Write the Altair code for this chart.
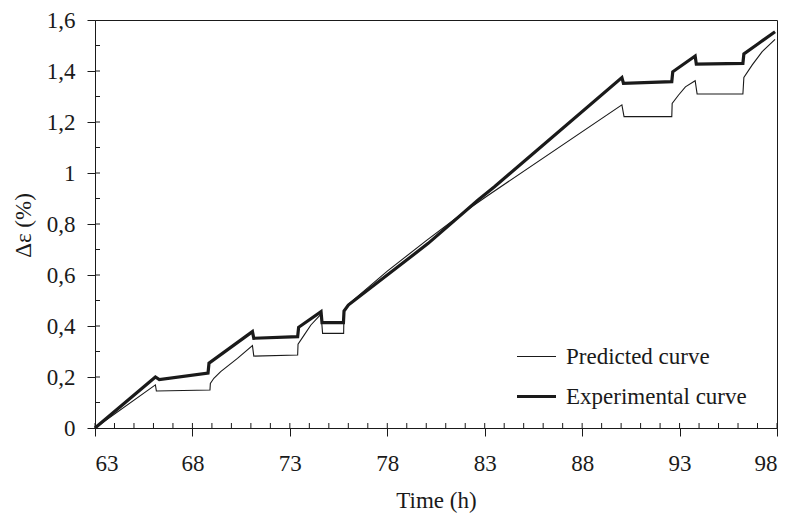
import altair as alt
import pandas as pd

# ---- data ----
exp_t = [63.0, 66.1, 66.3, 68.8, 68.85, 71.08, 71.15, 73.4, 73.45, 74.6, 74.65, 75.75,
         75.78, 76.0, 80.1, 82.66, 83.5, 90.04, 90.12, 92.6, 92.65, 93.8, 93.86, 96.25,
         96.3, 97.07, 97.9]
exp_v = [0.0, 0.2, 0.19, 0.215, 0.254, 0.378, 0.352, 0.358, 0.395, 0.456, 0.413, 0.413,
         0.459, 0.482, 0.724, 0.894, 0.946, 1.374, 1.352, 1.358, 1.397, 1.459, 1.427, 1.43,
         1.467, 1.509, 1.554]

pred_t = [63.0, 66.1, 66.15, 68.9, 68.92, 69.1, 69.45, 70.31, 71.08, 71.15, 73.4, 73.42,
          73.74, 74.08, 74.6, 74.68, 75.76, 75.78, 76.0, 78.0, 80.0, 82.0, 83.2, 90.04,
          90.15, 92.6, 92.62, 92.95, 93.3, 93.8, 93.9, 96.25, 96.3, 96.73, 97.24, 97.9]
pred_v = [0.0, 0.169, 0.145, 0.149, 0.175, 0.195, 0.221, 0.273, 0.323, 0.282, 0.286, 0.329,
          0.365, 0.404, 0.447, 0.371, 0.371, 0.46, 0.485, 0.615, 0.735, 0.85, 0.914, 1.267,
          1.221, 1.221, 1.273, 1.306, 1.338, 1.362, 1.31, 1.31, 1.375, 1.424, 1.476, 1.524]

series_names = ["Predicted curve", "Experimental curve"]
x_major = [63, 68, 73, 78, 83, 88, 93, 98]
x_minor = list(range(63, 99))
y_major = [0, 0.2, 0.4, 0.6, 0.8, 1, 1.2, 1.4, 1.6]
y_minor = [0.1, 0.2, 0.3, 0.4, 0.5, 0.6, 0.7, 0.8, 0.9, 1.0, 1.1, 1.2, 1.3, 1.4, 1.5]

rows = []
for i, (t, v) in enumerate(zip(pred_t, pred_v)):
    rows.append({"series": series_names[0], "t": t, "v": v, "i": i})
for i, (t, v) in enumerate(zip(exp_t, exp_v)):
    rows.append({"series": series_names[1], "t": t, "v": v, "i": i})
df = pd.DataFrame(rows)

W, H = 682, 408
FONT = "Liberation Serif"
INK = "#1a1a1a"
FS = 23

xscale = alt.Scale(domain=[63, 98], nice=False, zero=False)
yscale = alt.Scale(domain=[0, 1.6], nice=False, zero=False)

lines = alt.Chart(df).mark_line(color=INK, strokeJoin="miter").encode(
    x=alt.X("t:Q", scale=xscale,
            axis=alt.Axis(values=x_major, title="Time (h)", grid=False,
                          tickSize=8, labelPadding=16, labelFontSize=FS,
                          titleFontSize=FS, titleFontWeight="normal",
                          titleY=72, titleBaseline="middle")),
    y=alt.Y("v:Q", scale=yscale,
            axis=alt.Axis(values=y_major, title="Δε (%)", grid=False,
                          tickSize=8, labelPadding=12, labelFontSize=FS,
                          labelExpr="replace(toString(datum.value), '.', ',')",
                          titleFontSize=FS, titleFontWeight="normal",
                          titleX=-72, titleY=205, titleAngle=270,
                          titleAlign="center", titleBaseline="middle")),
    strokeWidth=alt.StrokeWidth(
        "series:N",
        scale=alt.Scale(domain=series_names, range=[1.1, 3.2]),
        legend=alt.Legend(title=None, orient="none", legendX=420, legendY=316,
                          symbolType="stroke", symbolSize=1521,
                          symbolStrokeColor=INK, labelFontSize=FS,
                          labelFont=FONT, labelColor=INK, labelOffset=8,
                          labelLimit=0, rowPadding=6)),
    detail="series:N",
    order="i:Q",
)

xt = alt.Chart(pd.DataFrame({"t": x_minor})).mark_rule(color=INK, strokeWidth=1).encode(
    x=alt.X("t:Q", scale=xscale), y=alt.value(H), y2=alt.value(H - 5))
yt = alt.Chart(pd.DataFrame({"v": y_minor})).mark_rule(color=INK, strokeWidth=1).encode(
    y=alt.Y("v:Q", scale=yscale), x=alt.value(0), x2=alt.value(5))

chart = alt.layer(lines, xt, yt).properties(
    width=W, height=H,
    autosize=alt.AutoSizeParams(type="none"),
    padding={"left": 95, "top": 20, "right": 21, "bottom": 95},
    background="white",
).configure_view(stroke=INK, strokeWidth=1).configure_axis(
    domainColor=INK, tickColor=INK, labelColor=INK, titleColor=INK,
    labelFont=FONT, titleFont=FONT, domainWidth=1, tickWidth=1,
)

chart.save("out.html", embed_options={"renderer": "svg", "actions": False})
